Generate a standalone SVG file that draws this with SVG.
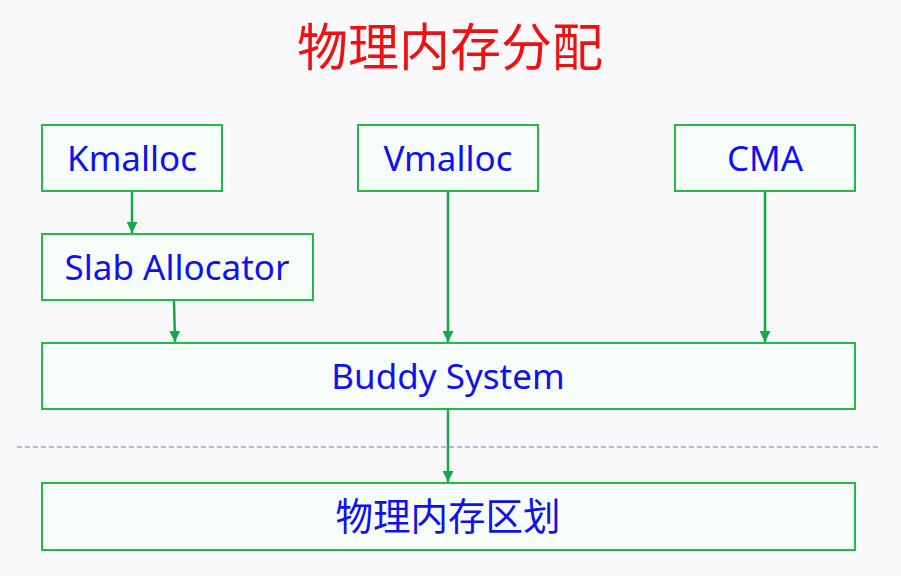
<svg xmlns="http://www.w3.org/2000/svg" width="901" height="576" viewBox="0 0 901 576">
<style>
.bg{fill:#f9f9fb}
.box{fill:#f7fdf8;stroke:#22bb44;stroke-width:2}
.lbl{fill:#1010f0;font-family:"Noto Sans","Noto Sans CJK SC",sans-serif;font-size:35px;text-anchor:middle;dominant-baseline:central}
.cn{font-size:37.5px}
.title{fill:#ee1111;font-family:"Noto Sans CJK SC",sans-serif;font-size:51px;text-anchor:middle}
.conn{stroke:#11aa44;stroke-width:2.5;fill:none;marker-end:url(#ah)}
</style>
<defs>
<marker id="ah" viewBox="0 0 10 10" refX="10" refY="5" markerWidth="4.4" markerHeight="4.4" orient="auto" markerUnits="strokeWidth">
<path d="M0,0 L10,5 L0,10 z" fill="#11aa44"/>
</marker>
</defs>
<rect class="bg" x="0" y="0" width="901" height="576"/>
<text class="title" x="450" y="66">物理内存分配</text>
<line x1="17" y1="447" x2="880" y2="447" stroke="#8fa8dd" stroke-width="1.5" stroke-dasharray="5,3"/>
<g id="kmalloc"><rect class="box" x="42" y="125" width="180" height="66"/><text class="lbl" x="132" y="157">Kmalloc</text></g>
<g id="vmalloc"><rect class="box" x="358" y="125" width="180" height="66"/><text class="lbl" x="448" y="157">Vmalloc</text></g>
<g id="cma"><rect class="box" x="675" y="125" width="180" height="66"/><text class="lbl" x="765" y="157">CMA</text></g>
<g id="slab"><rect class="box" x="42" y="234" width="271" height="66"/><text class="lbl" x="177" y="266">Slab Allocator</text></g>
<g id="buddy"><rect class="box" x="42" y="343" width="813" height="66"/><text class="lbl" x="448" y="375">Buddy System</text></g>
<g id="zone"><rect class="box" x="42" y="483" width="813" height="67"/><text class="lbl cn" x="448" y="515">物理内存区划</text></g>
<g id="connectors">
<line class="conn" x1="132" y1="192" x2="132" y2="233"/>
<line class="conn" x1="174" y1="301" x2="175" y2="342"/>
<line class="conn" x1="448" y1="192" x2="448" y2="342"/>
<line class="conn" x1="765" y1="192" x2="765" y2="342"/>
<line class="conn" x1="448" y1="410" x2="448" y2="482"/>
</g>
</svg>
